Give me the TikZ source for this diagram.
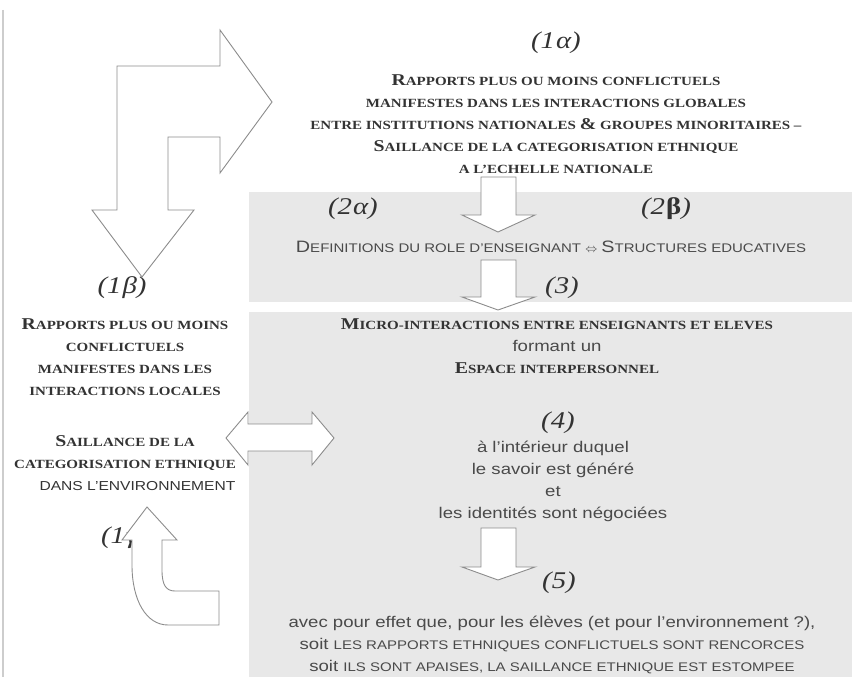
\documentclass[tikz,border=0pt]{standalone}
\usepackage{fontspec}
\setmainfont{Liberation Serif}[FakeStretch=1.2]
\setsansfont{Liberation Sans}[FakeStretch=1.2]
\usepackage{xcolor}
\usepackage{tikz}

\definecolor{panelgray}{HTML}{E8E8E8}
\definecolor{arrowgray}{HTML}{8C8C8C}
\definecolor{textgray}{HTML}{333333}
\definecolor{sansgray}{HTML}{4A4A4A}
\definecolor{rulegray}{HTML}{CDCDCD}

\newcommand{\bigini}[1]{{\fontsize{16.5}{22}\selectfont #1}}
\newcommand{\capsm}[1]{{\fontsize{12.5}{22}\selectfont #1}}

\tikzset{
  panel/.style={fill=panelgray, draw=none},
  blockarrow/.style={draw=arrowgray, fill=white, line width=0.9pt, line join=miter},
  lbl/.style={font=\fontsize{24}{28}\selectfont\itshape, text=textgray},
  scbold/.style={font=\bfseries\fontsize{12.5}{22}\selectfont, text=textgray, align=center},
  sanstext/.style={font=\sffamily\fontsize{15.5}{22}\selectfont, text=sansgray, align=center},
  sanscaps/.style={font=\sffamily\fontsize{12.5}{22}\selectfont, text=sansgray, align=center}
}

\begin{document}
\begin{tikzpicture}[x=1pt, y=-1pt,
          every node/.style={inner sep=0pt}]
          \useasboundingbox (0,0) rectangle (852,677);
          \draw[rulegray, line width=1.5pt] (3,10) -- (3,677);

          % grey panels
          \fill[panel] (249,192) rectangle (852,302);
          \fill[panel] (249,312) rectangle (852,677);

          % labels
          \node[lbl] (l1a) at (556,43) {(1\kern1pt α)};
          \node[lbl] (l2a) at (353,209) {(2\kern1pt α)};
          \node[lbl] (l2b) at (666,209) {(2\kern1pt\textup{\textbf{β}})};
          \node[lbl] (l3) at (562,288) {(3)};
          \node[lbl] (l1b) at (122,288) {(1\kern1pt β)};
          \node[lbl] (l4) at (558,423) {(4)};
          \node[lbl] (l5) at (559,583) {(5)};
          \node[lbl] (l1c) at (124,538) {(1\kern1pt γ)};

          % texts
          \node[scbold] (natl) at (556,124) {\bigini{R}APPORTS PLUS OU MOINS CONFLICTUELS\\
            MANIFESTES DANS LES INTERACTIONS GLOBALES\\
            ENTRE INSTITUTIONS NATIONALES \bigini{\&} GROUPES MINORITAIRES –\\
            \bigini{S}AILLANCE DE LA CATEGORISATION ETHNIQUE\\
            A L'ECHELLE NATIONALE};
          \node[sanscaps] (roles) at (551,247) {\bigini{D}EFINITIONS DU ROLE D'ENSEIGNANT $\Leftrightarrow$ \bigini{S}TRUCTURES EDUCATIVES};
          \node[scbold] (micro) at (557,346) {\bigini{M}ICRO-INTERACTIONS ENTRE ENSEIGNANTS ET ELEVES\\
            {\sffamily\mdseries\fontsize{15.5}{22}\selectfont\color{sansgray}formant un}\\
            \bigini{E}SPACE INTERPERSONNEL};
          \node[sanstext] (savoir) at (553,481) {à l'intérieur duquel\\
            le savoir est généré\\
            et\\
            les identités sont négociées};
          \node[sanstext] (effet) at (552,645) {avec pour effet que, pour les élèves (et pour l'environnement ?),\\
            soit \capsm{LES RAPPORTS ETHNIQUES CONFLICTUELS SONT RENCORCES}\\
            soit \capsm{ILS SONT APAISES, LA SAILLANCE ETHNIQUE EST ESTOMPEE}};
          \node[scbold] (local) at (125,357) {\bigini{R}APPORTS PLUS OU MOINS\\
            CONFLICTUELS\\
            MANIFESTES DANS LES\\
            INTERACTIONS LOCALES};
          \node[scbold] (envir) at (125,463) {\bigini{S}AILLANCE DE LA\\
            CATEGORISATION ETHNIQUE\\
            \hspace*{25pt}{\sffamily\mdseries\fontsize{13}{22}\selectfont DANS L'ENVIRONNEMENT}};

          % block arrows
          \draw[blockarrow] (117,66) -- (220,66) -- (220,30) -- (272,102) -- (220,173) -- (220,137)
            -- (168,137) -- (168,210) -- (194,210) -- (142,277) -- (92,210) -- (117,210) -- cycle;
          \draw[blockarrow] (481,177) -- (516,177) -- (516,215) -- (535,215) -- (498,232)
            -- (462,215) -- (481,215) -- cycle;
          \draw[blockarrow] (481,260) -- (516,260) -- (516,297) -- (535,297) -- (498,310)
            -- (462,297) -- (481,297) -- cycle;
          \draw[blockarrow] (481,528) -- (516,528) -- (516,567) -- (535,567) -- (498,580)
            -- (462,567) -- (481,567) -- cycle;
          \draw[blockarrow] (226,438) -- (248,412) -- (248,424) -- (312,424) -- (312,412) -- (334,438)
            -- (312,465) -- (312,451) -- (248,451) -- (248,465) -- cycle;
          \draw[blockarrow] (147,507) -- (177,540) -- (162,540) -- (162,570)
            .. controls (162,585) and (166,591) .. (175,591) -- (219,591) -- (219,625) -- (168,625)
            .. controls (146,625) and (132,600) .. (132,565) -- (132,540) -- (122,540) -- cycle;
        \end{tikzpicture}
\end{document}
